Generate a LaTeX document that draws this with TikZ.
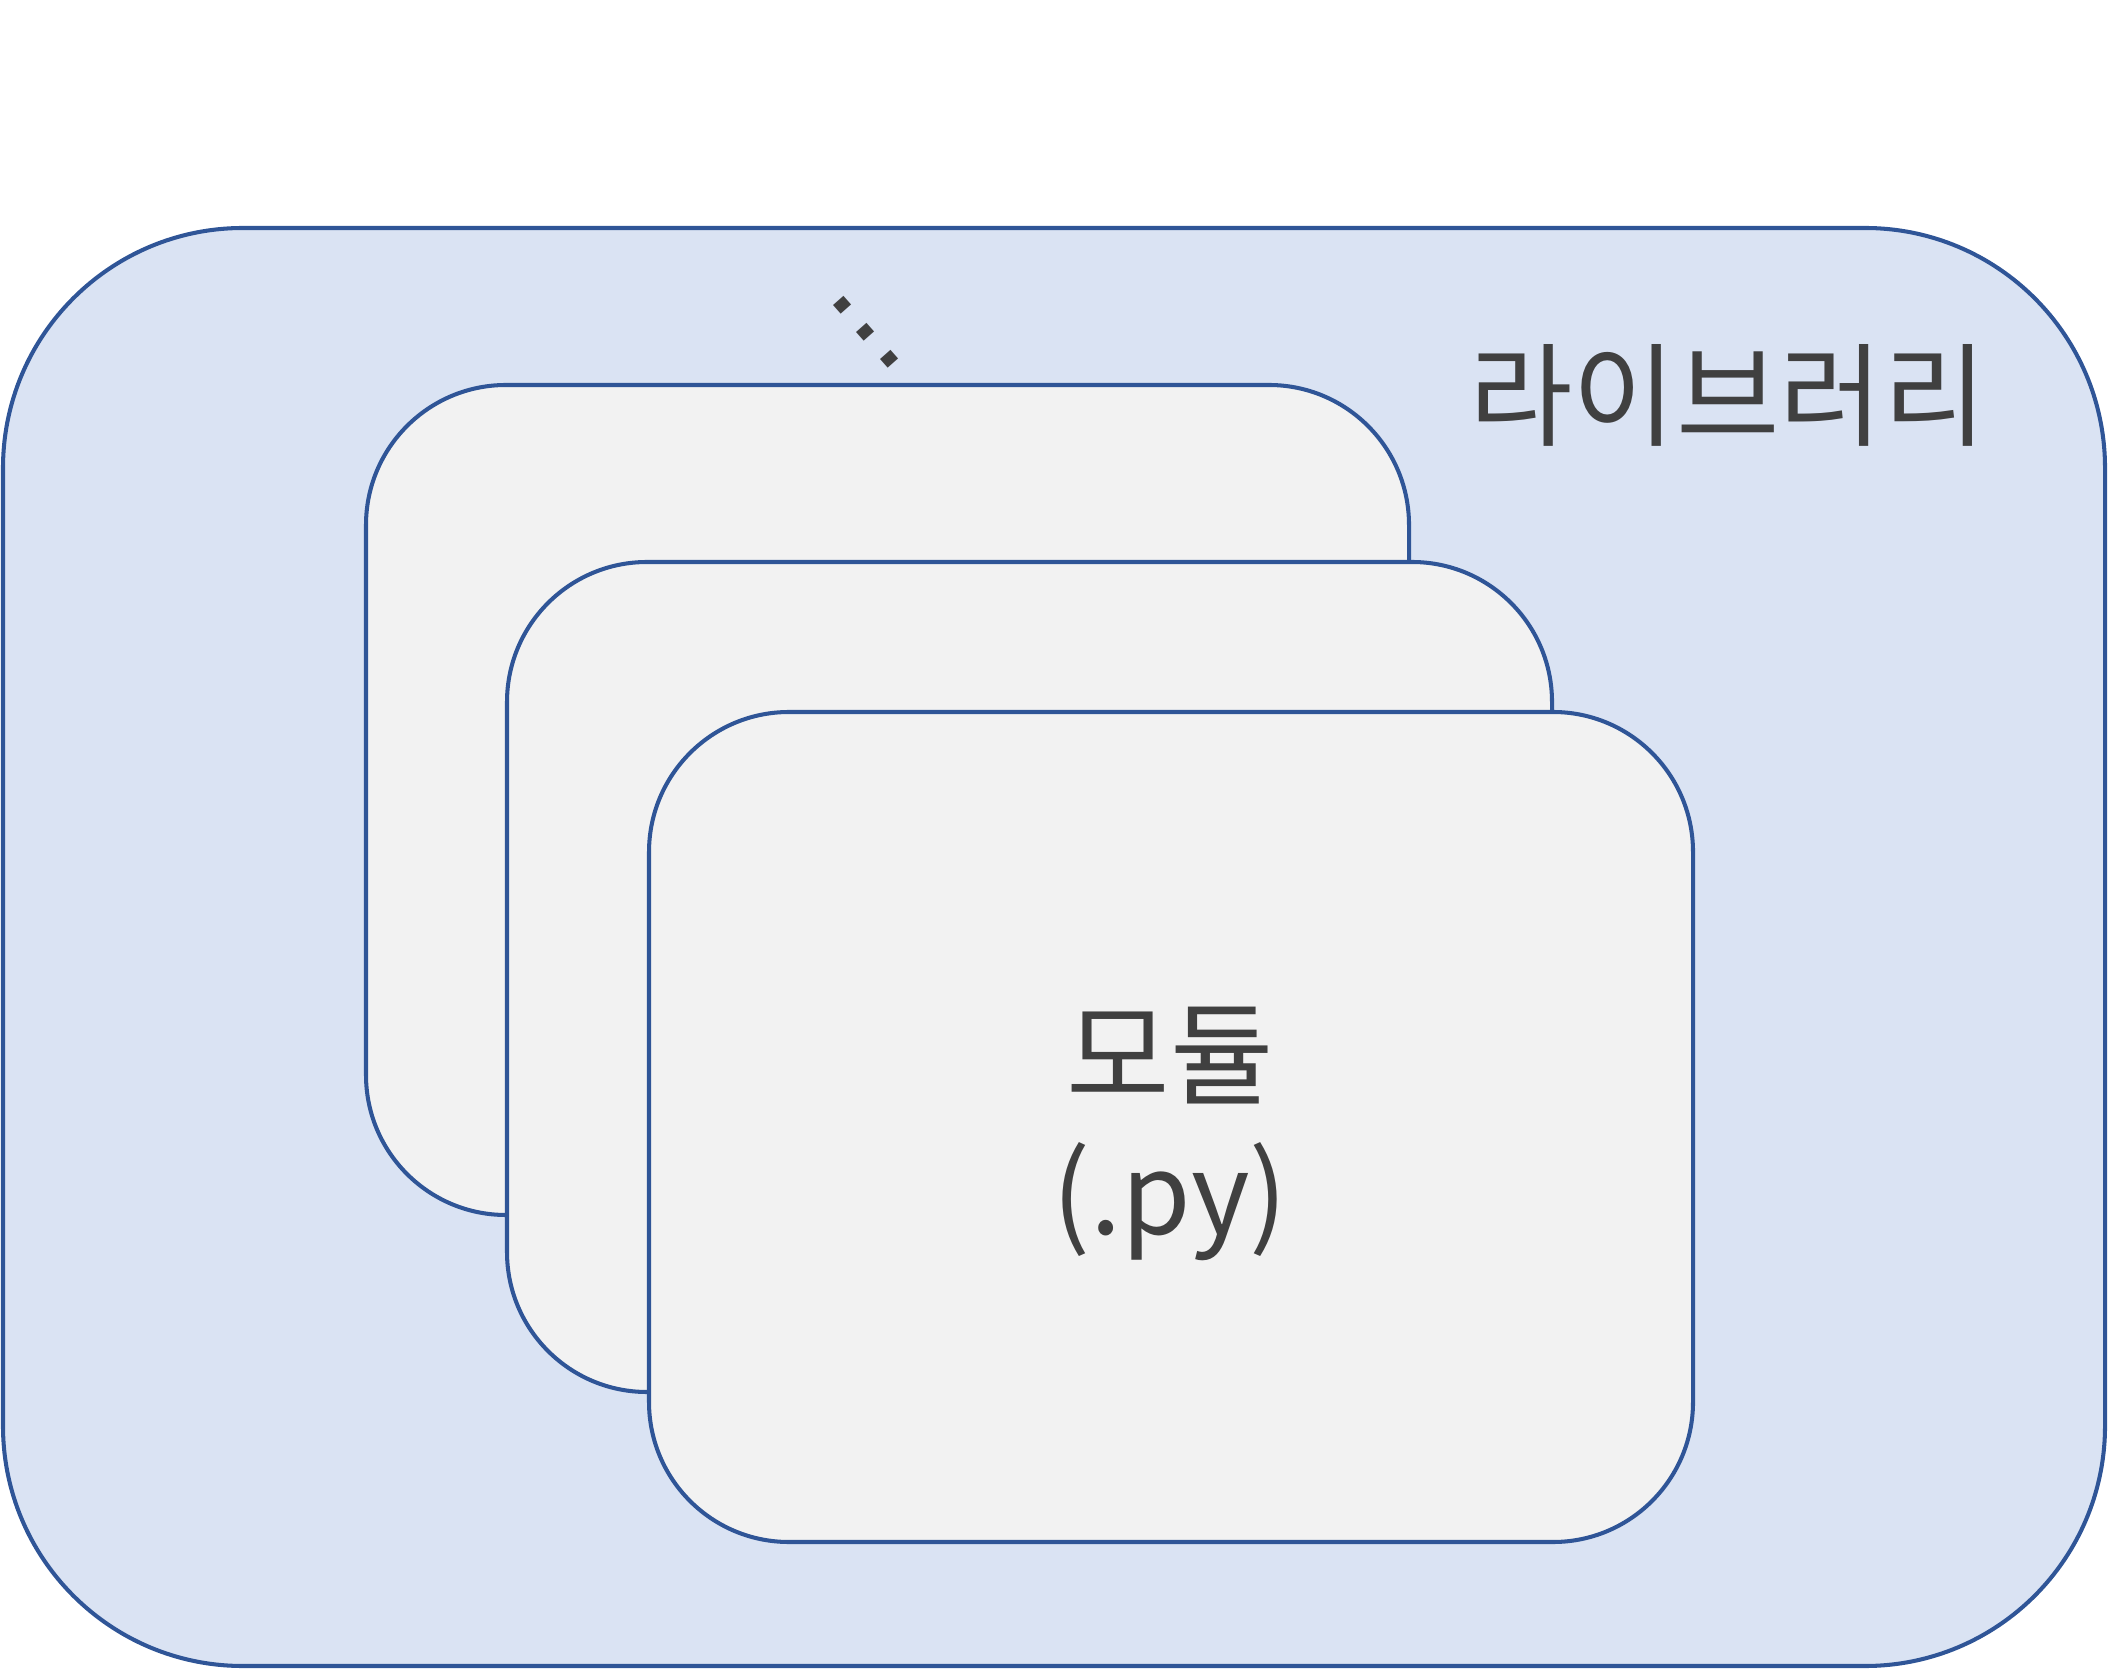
\documentclass[tikz,border=0pt]{standalone}
\usepackage{fontspec}
\setmainfont{Noto Sans CJK KR}
\newfontfamily\dotfont{DejaVu Sans}
\usepackage{tikz}
\definecolor{libfill}{RGB}{218, 227, 243}
\definecolor{libline}{RGB}{47, 85, 151}
\definecolor{modfill}{RGB}{242, 242, 242}
\definecolor{txt}{RGB}{64, 64, 64}
\tikzset{
    libbox/.style={draw=libline, fill=libfill, line width=1.15pt, rounded corners=2.4cm},
    modbox/.style={draw=libline, fill=modfill, line width=1.15pt, rounded corners=1.4cm},
    bigtext/.style={text=txt, font=\fontsize{32}{39.5}\selectfont, align=center, inner sep=0pt}
}

\begin{document}
\begin{tikzpicture}
    \useasboundingbox (0,0) rectangle (21.08,16.71);

    \draw[libbox] (0.03,0.05) rectangle (21.05,14.43);
    \node[bigtext] (lib) at (17.28,12.76) {라이브러리};
    \node[bigtext, font=\dotfont\fontsize{32}{39.5}\selectfont, rotate=-48.5] (more) at (8.66,13.39) {...};

    % modules, back to front
    \draw[modbox] (3.66,4.56) rectangle (14.09,12.86);
    \draw[modbox] (5.07,2.79) rectangle (15.52,11.09);
    \draw[modbox] (6.49,1.29) rectangle (16.93,9.59);

    \node[bigtext] (mod) at (11.70,5.37) {모듈\\(.py)};

\end{tikzpicture}
\end{document}
